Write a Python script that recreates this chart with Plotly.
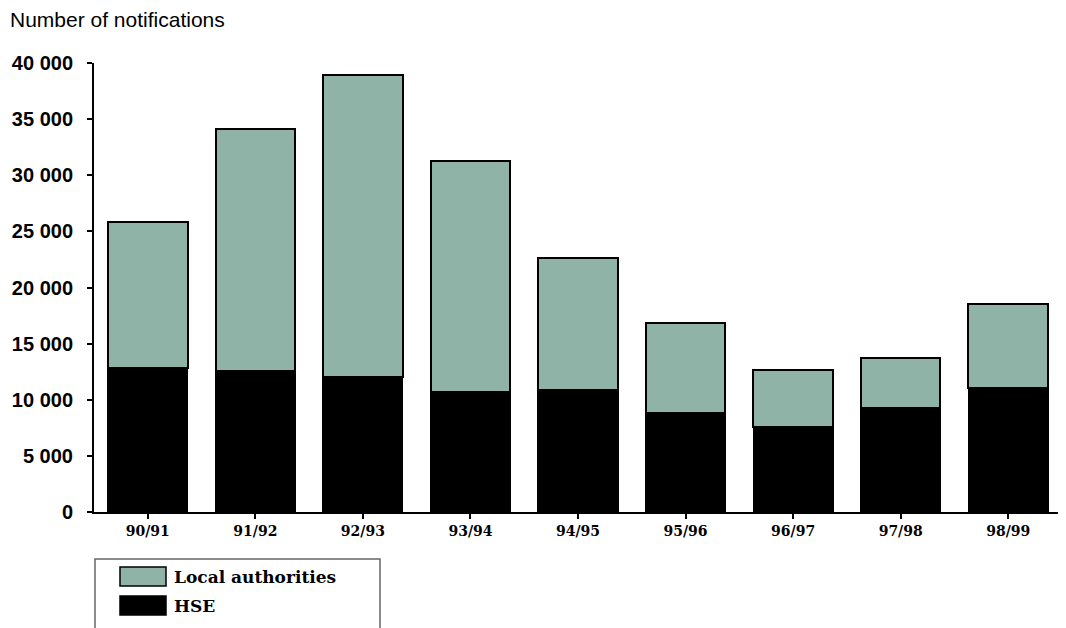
import plotly.graph_objects as go

categories = ["90/91", "91/92", "92/93", "93/94", "94/95", "95/96", "96/97", "97/98", "98/99"]
hse = [12860, 12560, 12030, 10690, 10900, 8830, 7580, 9270, 11050]
local_authorities = [12960, 21570, 26900, 20580, 11720, 8000, 5040, 4450, 7500]
y_tickvals = [0, 5000, 10000, 15000, 20000, 25000, 30000, 35000, 40000]
y_ticktext = ["0", "5 000", "10 000", "15 000", "20 000", "25 000", "30 000", "35 000", "40 000"]

TEAL = "#8FB3A7"
OFF = 8  # default page body margin
W, H = 1066 - OFF, 628 - OFF
X0, X1, Y0, Y1 = 94, 1062, 63, 512  # target plot area in screen pixels
ML, MR, MT, MB = X0 - OFF, 1066 - X1, Y0 - OFF, 628 - Y1
PW, PH = X1 - X0, Y1 - Y0

def px(x):
    return (x - X0) / PW

def py(y):
    return (Y1 - y) / PH

fig = go.Figure()
fig.add_trace(go.Bar(x=categories, y=hse, name="HSE",
                     marker=dict(color="black", line=dict(color="black", width=1.5)),
                     showlegend=False))
fig.add_trace(go.Bar(x=categories, y=local_authorities, name="Local authorities",
                     marker=dict(color=TEAL, line=dict(color="black", width=2)),
                     showlegend=False))

fig.update_layout(
    barmode="stack", bargap=0.26,
    width=W, height=H,
    margin=dict(l=ML, r=MR, t=MT, b=MB),
    plot_bgcolor="white", paper_bgcolor="white",
    xaxis=dict(showline=True, linecolor="black", linewidth=2,
               ticks="outside", ticklen=5, tickwidth=2, tickcolor="black",
               tickfont=dict(family="DejaVu Serif", size=14, color="black", weight="bold"),
               showgrid=False),
    yaxis=dict(range=[0, 40000], showline=True, linecolor="black", linewidth=2,
               tickvals=y_tickvals, ticktext=y_ticktext,
               ticks="outside", ticklen=5, tickwidth=2, tickcolor="black",
               ticklabelstandoff=10,
               tickfont=dict(family="Liberation Sans", size=20, color="black", weight="bold"),
               showgrid=False, zeroline=False),
)

# Title
fig.add_annotation(text="Number of notifications", xref="paper", yref="paper",
                   x=px(8), y=py(20), xanchor="left", yanchor="middle", showarrow=False,
                   font=dict(family="Liberation Sans", size=21, color="black"))

# Manual legend box
fig.add_shape(type="rect", xref="paper", yref="paper",
              x0=px(95), x1=px(380), y0=py(640), y1=py(559),
              line=dict(color="#666666", width=1.5), fillcolor="rgba(0,0,0,0)")
legend_items = [("Local authorities", TEAL, 567, 586), ("HSE", "black", 596, 615)]
for label, col, ya, yb in legend_items:
    fig.add_shape(type="rect", xref="paper", yref="paper",
                  x0=px(120), x1=px(166), y0=py(yb), y1=py(ya),
                  line=dict(color="black", width=1.5), fillcolor=col)
    fig.add_annotation(text=label, xref="paper", yref="paper",
                       x=px(172), y=py((ya + yb) / 2), xanchor="left", yanchor="middle",
                       showarrow=False,
                       font=dict(family="DejaVu Serif", size=17, color="black", weight="bold"))

fig.write_html("out.html")
